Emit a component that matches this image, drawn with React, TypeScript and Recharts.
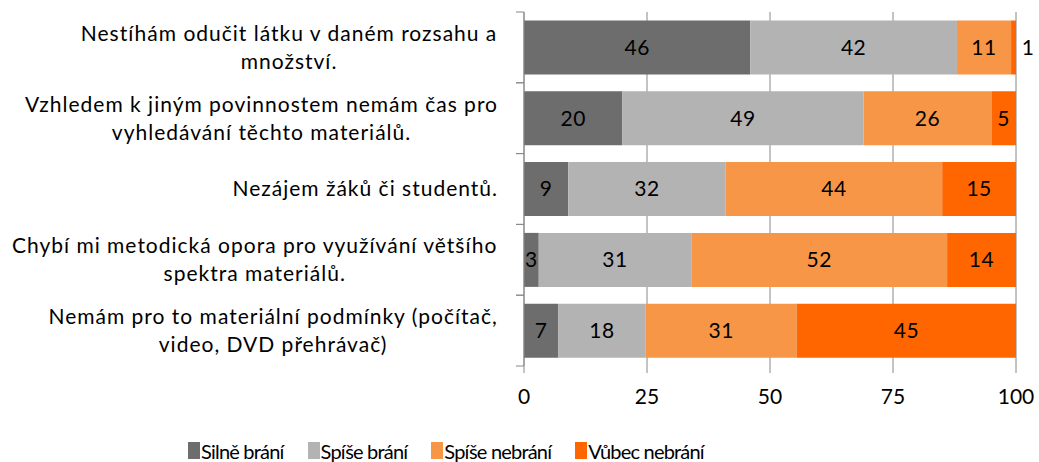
import { BarChart, Bar, XAxis, YAxis, CartesianGrid, Legend, LabelList } from "recharts";

// Survey answers, percentages per statement
const categories = [
  "Nestíhám odučit látku v daném rozsahu a\nmnožství.",
  "Vzhledem k jiným povinnostem nemám čas pro\nvyhledávání těchto materiálů.",
  "Nezájem žáků či studentů.",
  "Chybí mi metodická opora pro využívání většího\nspektra materiálů.",
  "Nemám pro to materiální podmínky (počítač,\nvideo, DVD přehrávač)",
];
const silneBrani = [46, 20, 9, 3, 7];
const spiseBrani = [42, 49, 32, 31, 18];
const spiseNebrani = [11, 26, 44, 52, 31];
const vubecNebrani = [1, 5, 15, 14, 45];

const seriesKeys = ["silne", "spise", "spiseNe", "vubecNe"];
const seriesNames = ["Silně brání", "Spíše brání", "Spíše nebrání", "Vůbec nebrání"];
const seriesColors = ["#6d6d6d", "#b3b3b3", "#f79646", "#ff6600"];
const xTicks = [0, 25, 50, 75, 100];

const data = categories.map((name, i) => ({
  name,
  silne: silneBrani[i],
  spise: spiseBrani[i],
  spiseNe: spiseNebrani[i],
  vubecNe: vubecNebrani[i],
}));

const WIDTH = 1039;
const HEIGHT = 462;
const PLOT_TOP = 12;
const PLOT_BOTTOM = 366;
const PLOT_LEFT = 524;
const PLOT_RIGHT = 1016;
const LEGEND_H = 30;
const FONT = "Lato, sans-serif";
const FONT_SIZE = 21;
const CAT_SPACING = 1;
const AXIS_GRAY = "#888888";

const band = (PLOT_BOTTOM - PLOT_TOP) / categories.length;

let ctx: CanvasRenderingContext2D | null = null;
function measure(text: string) {
  if (!ctx) ctx = document.createElement("canvas").getContext("2d");
  if (!ctx) return text.length * FONT_SIZE * 0.5;
  ctx.font = `${FONT_SIZE}px Lato`;
  return ctx.measureText(text).width + text.length * CAT_SPACING;
}

function CategoryTick(props: any) {
  const { y, payload } = props;
  const lines = String(payload.value).split("\n");
  const maxW = Math.max(...lines.map(measure));
  const cx = PLOT_LEFT - 26 - maxW / 2;
  const lh = 28;
  const startY = y - ((lines.length - 1) * lh) / 2;
  return (
    <g>
      <line x1={PLOT_LEFT - 8} x2={PLOT_LEFT} y1={y - band / 2} y2={y - band / 2} stroke={AXIS_GRAY} />
      <line x1={PLOT_LEFT - 8} x2={PLOT_LEFT} y1={y + band / 2} y2={y + band / 2} stroke={AXIS_GRAY} />
      <text
        textAnchor="middle"
        fontFamily={FONT}
        fontSize={FONT_SIZE}
        letterSpacing={CAT_SPACING}
        fill="#000"
      >
        {lines.map((l, i) => (
          <tspan key={i} x={cx} y={startY + i * lh} dy="0.35em">
            {l}
          </tspan>
        ))}
      </text>
    </g>
  );
}

function SegmentLabel(props: any) {
  const { x, y, width, height, value } = props;
  const outside = width < 10;
  return (
    <text
      x={outside ? x + width + 12 : x + width / 2}
      y={y + height / 2}
      dy="0.35em"
      textAnchor="middle"
      fontFamily={FONT}
      fontSize={FONT_SIZE}
      letterSpacing={0.5}
      fill="#000"
    >
      {value}
    </text>
  );
}

function LegendContent() {
  return (
    <div style={{ display: "flex", paddingLeft: 188, paddingTop: 7, height: LEGEND_H, boxSizing: "border-box" }}>
      {seriesNames.map((n, i) => (
        <div key={n} style={{ display: "flex", alignItems: "center", marginRight: 24 }}>
          <div style={{ width: 12, height: 17, background: seriesColors[i], marginRight: 1 }} />
          <span style={{ fontFamily: FONT, fontSize: 20, letterSpacing: -0.8, lineHeight: "20px", color: "#000" }}>
            {n}
          </span>
        </div>
      ))}
    </div>
  );
}

export default function App() {
  return (
    <div style={{ position: "absolute", left: 0, top: 0, width: WIDTH, height: HEIGHT, background: "#fff" }}>
      <BarChart
        width={WIDTH}
        height={HEIGHT}
        data={data}
        layout="vertical"
        stackOffset="expand"
        barCategoryGap="12%"
        margin={{ top: PLOT_TOP, right: WIDTH - PLOT_RIGHT, bottom: 0, left: 0 }}
      >
        <CartesianGrid horizontal={false} stroke={AXIS_GRAY} verticalValues={xTicks.map((t) => t / 100)} />
        <XAxis
          type="number"
          domain={[0, 1]}
          ticks={xTicks.map((t) => t / 100)}
          tickFormatter={(v: number) => `${Math.round(v * 100)}`}
          axisLine={false}
          tickLine={{ stroke: AXIS_GRAY }}
          tickSize={7}
          tickMargin={16}
          height={HEIGHT - LEGEND_H - PLOT_BOTTOM}
          tick={{ fill: "#000", fontSize: FONT_SIZE, fontFamily: FONT }}
        />
        <YAxis
          type="category"
          dataKey="name"
          width={PLOT_LEFT}
          axisLine={{ stroke: AXIS_GRAY }}
          tickLine={false}
          tick={<CategoryTick />}
          interval={0}
        />
        <Legend verticalAlign="bottom" height={LEGEND_H} content={<LegendContent />} />
        {seriesKeys.map((k, i) => (
          <Bar key={k} dataKey={k} name={seriesNames[i]} stackId="a" fill={seriesColors[i]} isAnimationActive={false}>
            <LabelList dataKey={k} content={<SegmentLabel />} />
          </Bar>
        ))}
      </BarChart>
    </div>
  );
}
